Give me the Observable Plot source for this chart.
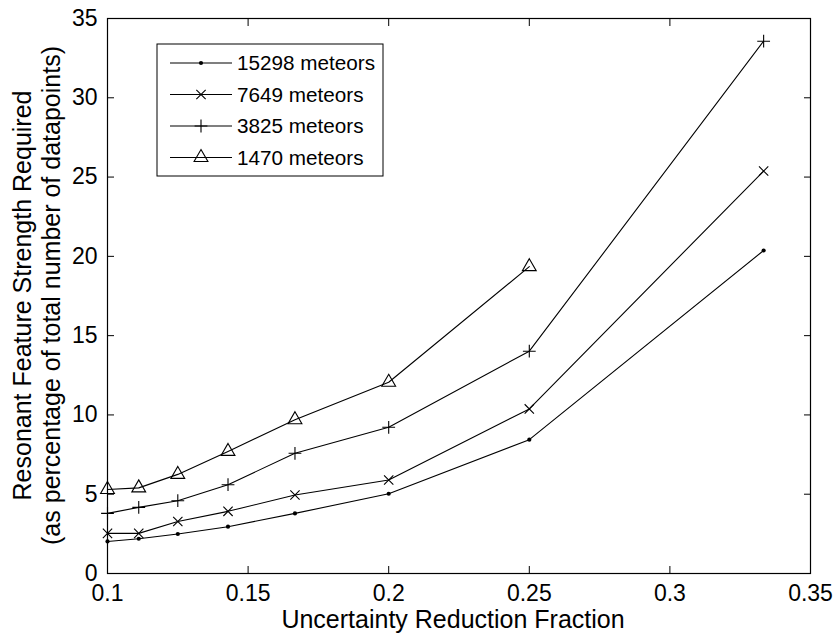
<!DOCTYPE html>
<html><head><meta charset="utf-8">
<script src="https://cdn.jsdelivr.net/npm/d3@7"></script>
<script src="https://cdn.jsdelivr.net/npm/@observablehq/plot@0.6"></script>
<style>
body{margin:0;background:#fff;}
#wrap{position:relative;width:836px;height:633px;}
</style></head><body><div id="wrap"></div>
<script>
const fractions = [1/10, 1/9, 1/8, 1/7, 1/6, 1/5, 1/4, 1/3];
const seriesNames = ["15298 meteors", "7649 meteors", "3825 meteors", "1470 meteors"];
const v15298 = [2.02, 2.19, 2.49, 2.95, 3.79, 5.03, 8.44, 20.37];
const v7649  = [2.53, 2.53, 3.28, 3.92, 4.95, 5.90, 10.38, 25.38];
const v3825  = [3.79, 4.17, 4.59, 5.60, 7.58, 9.22, 14.02, 33.57];
const v1470  = [5.30, 5.40, 6.25, 7.70, 9.70, 12.06, 19.35];
const xTicks = [0.1, 0.15, 0.2, 0.25, 0.3, 0.35];
const yTicks = [0, 5, 10, 15, 20, 25, 30, 35];
const xLabel = "Uncertainty Reduction Fraction";
const yLabel1 = "Resonant Feature Strength Required";
const yLabel2 = "(as percentage of total number of datapoints)";

const valuesList = [v15298, v7649, v3825, v1470];
const rows = [];
valuesList.forEach((vals, i) => vals.forEach((v, j) => rows.push({series: seriesNames[i], x: fractions[j], y: v})));
const of = name => rows.filter(d => d.series === name);

const markerStyle = {
  "15298 meteors": {symbol: "circle", r: 2.1, fill: "black", stroke: "none"},
  "7649 meteors": {symbol: "times", r: 4.3, fill: "none", stroke: "black"},
  "3825 meteors": {symbol: "plus", r: 4.2, fill: "none", stroke: "black"},
  "1470 meteors": {symbol: "triangle2", r: 6.6, fill: "none", stroke: "black"}
};

const font = "'Liberation Sans', Arial, sans-serif";

const chart = Plot.plot({
  width: 836, height: 633,
  marginLeft: 107, marginRight: 26, marginTop: 18, marginBottom: 60,
  x: {domain: [0.1, 0.35]},
  y: {domain: [0, 35]},
  style: {fontFamily: font, fontSize: "23px", color: "black", background: "white"},
  marks: [
    Plot.axisX(xTicks, {anchor: "bottom", tickSize: -7, tickPadding: 18, fontSize: 23, label: null, tickFormat: d => String(d)}),
    Plot.axisX(xTicks, {anchor: "top", tickSize: -7, label: null, tickFormat: () => ""}),
    Plot.axisY(yTicks, {anchor: "left", tickSize: -7, tickPadding: 17, fontSize: 23, label: null, tickFormat: d => String(d)}),
    Plot.axisY(yTicks, {anchor: "right", tickSize: -7, label: null, tickFormat: () => ""}),
    Plot.frame({stroke: "black", strokeWidth: 1.2}),
    Plot.line(rows, {x: "x", y: "y", z: "series", stroke: "black", strokeWidth: 1.1}),
    ...seriesNames.map(name => Plot.dot(of(name), {x: "x", y: "y", ...markerStyle[name], strokeWidth: 1.1}))
  ]
});
document.getElementById("wrap").appendChild(chart);

const svg = d3.select(chart);
// axis labels
svg.append("text").attr("x", 453).attr("y", 628).attr("text-anchor", "middle")
  .attr("font-family", font).attr("font-size", 25).attr("fill", "black").text(xLabel);
svg.append("text").attr("transform", "translate(31,295.5) rotate(-90)").attr("text-anchor", "middle")
  .attr("font-family", font).attr("font-size", 25).attr("fill", "black").text(yLabel1);
svg.append("text").attr("transform", "translate(60,295.5) rotate(-90)").attr("text-anchor", "middle")
  .attr("font-family", font).attr("font-size", 25).attr("fill", "black").text(yLabel2);

// legend
const lg = svg.append("g");
lg.append("rect").attr("x", 157).attr("y", 44).attr("width", 226).attr("height", 132)
  .attr("fill", "white").attr("stroke", "black").attr("stroke-width", 1);
const symMap = {circle: d3.symbolCircle, times: d3.symbolTimes, plus: d3.symbolPlus, triangle2: d3.symbolTriangle2};
seriesNames.forEach((name, i) => {
  const yy = 63 + i * 31.5;
  const st = markerStyle[name];
  lg.append("line").attr("x1", 170).attr("x2", 232).attr("y1", yy).attr("y2", yy)
    .attr("stroke", "black").attr("stroke-width", 1.1);
  lg.append("path").attr("transform", `translate(201,${yy})`)
    .attr("d", d3.symbol(symMap[st.symbol], Math.PI * st.r * st.r)())
    .attr("fill", st.fill).attr("stroke", st.stroke).attr("stroke-width", 1.1);
  lg.append("text").attr("x", 237).attr("y", yy).attr("dy", "0.35em").attr("text-anchor", "start")
    .attr("font-family", font).attr("font-size", 20.7).attr("fill", "black").text(name);
});
</script></body></html>
